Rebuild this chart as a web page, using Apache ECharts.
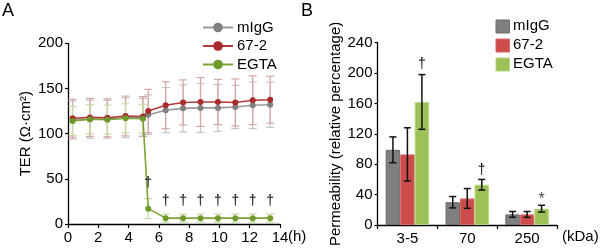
<!DOCTYPE html>
<html>
<head>
<meta charset="utf-8">
<script src="https://cdn.jsdelivr.net/npm/echarts@6/dist/echarts.min.js"></script>
<style>
  html, body { margin: 0; padding: 0; background: #fff; }
  #chart { width: 600px; height: 248px; }
</style>
</head>
<body>
<div id="chart"></div>
<script>
// Panel A: TER over time
const hours = [0.3, 1.45, 2.6, 3.8, 4.95, 5.3, 6.45, 7.6, 8.75, 9.9, 11.05, 12.2, 13.35];
const terMigg = [115, 116, 116, 117.5, 118, 121, 126, 128, 128.5, 128.5, 129.5, 131.5, 132];
const terMiggErr = [21, 21, 21, 22, 21, 22, 25, 26, 27, 26, 24, 26, 25];
const ter672 = [117, 118, 117.5, 119.5, 119, 125, 131.5, 134.5, 135, 135, 134.5, 137, 137.5];
const ter672Err = [21, 21, 21, 22, 22, 24, 26, 25, 27, 25, 26, 27, 26];
const terEgta = [114, 116, 115.5, 117, 116.5, 17, 6.5, 6.5, 6.5, 6.5, 6.5, 6.5, 6.5];
const terEgtaErr = [16, 16, 16, 16, 16, 11, 4.5, 4.5, 4.5, 4.5, 4.5, 4.5, 4.5];
const daggerHoursA = [5.3, 6.45, 7.6, 8.75, 9.9, 11.05, 12.2, 13.35];
const daggerYA = [45, 25, 25, 25, 25, 25, 25, 25];

// Panel B: permeability by tracer size
const sizes = ['3-5', '70', '250'];
const permMigg = [99, 30, 14];
const permMiggErr = [17, 7.5, 3.8];
const perm672 = [93, 35, 14];
const perm672Err = [35, 13, 3.8];
const permEgta = [162, 53, 21.5];
const permEgtaErr = [36, 7, 4.5];
const marksB = ['†', '†', '*'];
const marksBY = [212, 72, 33];

const font = 'Liberation Sans, Arial, Helvetica, sans-serif';
const C = {
  gray: '#808080', grayLine: '#999999', grayErr: '#c4c4c4',
  red: '#a92b2b', redLine: '#b03a3a', redErr: '#d8a4a4',
  green: '#6e9a2a', greenLine: '#7aa535', greenErr: '#c9daa2',
  barGray: '#7f7f7f', barRed: '#cc4b4b', barGreen: '#9cc257'
};

const chart = echarts.init(document.getElementById('chart'), null, { renderer: 'canvas' });

function lineErr(vals, errs, color) {
  return {
    type: 'custom',
    xAxisIndex: 0, yAxisIndex: 0,
    silent: true,
    z: 1,
    data: hours.map((h, i) => [h, vals[i] - errs[i], vals[i] + errs[i]]),
    renderItem: (params, api) => {
      const lo = api.coord([api.value(0), api.value(1)]);
      const hi = api.coord([api.value(0), api.value(2)]);
      const w = 4;
      const style = { stroke: color, lineWidth: 1.2, fill: null };
      return {
        type: 'group',
        children: [
          { type: 'line', shape: { x1: lo[0], y1: lo[1], x2: hi[0], y2: hi[1] }, style },
          { type: 'line', shape: { x1: lo[0] - w, y1: lo[1], x2: lo[0] + w, y2: lo[1] }, style },
          { type: 'line', shape: { x1: hi[0] - w, y1: hi[1], x2: hi[0] + w, y2: hi[1] }, style }
        ]
      };
    }
  };
}

function lineSeries(name, vals, color, lineColor) {
  return {
    name, type: 'line', xAxisIndex: 0, yAxisIndex: 0,
    data: hours.map((h, i) => [h, vals[i]]),
    symbol: 'circle', symbolSize: 6,
    itemStyle: { color },
    lineStyle: { color: lineColor, width: 1.6 },
    z: 3
  };
}

const barW = 14.5;
function barErr(vals, errs, idx) {
  return {
    type: 'custom',
    xAxisIndex: 1, yAxisIndex: 1,
    silent: true,
    z: 5,
    data: sizes.map((s, i) => [i, vals[i] - errs[i], vals[i] + errs[i]]),
    renderItem: (params, api) => {
      const lo = api.coord([api.value(0), api.value(1)]);
      const hi = api.coord([api.value(0), api.value(2)]);
      const x = lo[0] + (idx - 1) * barW;
      const w = 3.5;
      const style = { stroke: '#111', lineWidth: 1.5, fill: null };
      return {
        type: 'group',
        children: [
          { type: 'line', shape: { x1: x, y1: lo[1], x2: x, y2: hi[1] }, style },
          { type: 'line', shape: { x1: x - w, y1: lo[1], x2: x + w, y2: lo[1] }, style },
          { type: 'line', shape: { x1: x - w, y1: hi[1], x2: x + w, y2: hi[1] }, style }
        ]
      };
    }
  };
}

function barSeries(name, vals, color, border) {
  return {
    name, type: 'bar', xAxisIndex: 1, yAxisIndex: 1,
    data: vals,
    barWidth: barW, barGap: '0%',
    itemStyle: { color, borderColor: border, borderWidth: 1 }
  };
}

const axisCommon = {
  axisLine: { show: true, lineStyle: { color: '#000', width: 1.3 } },
  axisTick: { show: true, length: 3, lineStyle: { color: '#000', width: 1.2 } },
  axisLabel: { color: '#000', fontSize: 15, fontFamily: font },
  splitLine: { show: false }
};

const option = {
  backgroundColor: '#fff',
  animation: false,
  textStyle: { fontFamily: font },
  grid: [
    { left: 68, right: 320, top: 43.3, bottom: 24 },
    { left: 377.5, right: 43, top: 42.7, bottom: 21.3 }
  ],
  xAxis: [
    {
      ...axisCommon, gridIndex: 0, type: 'value', min: 0, max: 14, interval: 2,
      axisTick: { show: true, length: 4, inside: false, lineStyle: { color: '#000', width: 1.2 } },
      axisLabel: { ...axisCommon.axisLabel, margin: 6 }
    },
    {
      ...axisCommon, gridIndex: 1, type: 'category', data: sizes,
      axisTick: { show: true, length: 4, alignWithLabel: false, lineStyle: { color: '#000', width: 1.2 } },
      axisLabel: { ...axisCommon.axisLabel, margin: 6 }
    }
  ],
  yAxis: [
    {
      ...axisCommon, gridIndex: 0, type: 'value', min: 0, max: 200, interval: 50,
      name: 'TER (Ω·cm²)', nameLocation: 'middle', nameGap: 35,
      nameTextStyle: { color: '#000', fontSize: 15, fontFamily: font },
      axisLabel: { ...axisCommon.axisLabel, margin: 5 }
    },
    {
      ...axisCommon, gridIndex: 1, type: 'value', min: 0, max: 240, interval: 40,
      name: 'Permeability (relative percentage)', nameLocation: 'middle', nameGap: 34,
      nameTextStyle: { color: '#000', fontSize: 15, fontFamily: font },
      axisLabel: { ...axisCommon.axisLabel, margin: 5 }
    }
  ],
  legend: [
    {
      data: ['mIgG', '67-2', 'EGTA'].map(n => ({ name: n })),
      orient: 'vertical', left: 197, top: 15,
      itemWidth: 30, itemHeight: 12, itemGap: 3.5,
      textStyle: { fontSize: 15, color: '#000', fontFamily: font, padding: [0, 0, 0, -1] }
    }
  ],
  graphic: [
    { type: 'text', left: 2, top: 2, style: { text: 'A', fontSize: 18, fill: '#000', fontFamily: font } },
    { type: 'text', left: 301, top: 2, style: { text: 'B', fontSize: 18, fill: '#000', fontFamily: font } },
    { type: 'text', left: 288, top: 229, style: { text: '(h)', fontSize: 15, fill: '#000', fontFamily: font } },
    { type: 'text', left: 562, top: 229, style: { text: '(kDa)', fontSize: 15, fill: '#000', fontFamily: font } },
    // legend B
    { type: 'rect', left: 495.5, top: 19.5, shape: { width: 13.5, height: 13 }, style: { fill: C.barGray, stroke: '#6c6c6c' } },
    { type: 'text', left: 513, top: 18, style: { text: 'mIgG', fontSize: 15, fill: '#000', fontFamily: font } },
    { type: 'rect', left: 495.5, top: 38.5, shape: { width: 13.5, height: 13 }, style: { fill: C.barRed, stroke: '#d86a6a' } },
    { type: 'text', left: 513, top: 37, style: { text: '67-2', fontSize: 15, fill: '#000', fontFamily: font } },
    { type: 'rect', left: 495.5, top: 57.5, shape: { width: 13.5, height: 13 }, style: { fill: C.barGreen, stroke: '#b7d682' } },
    { type: 'text', left: 513, top: 56, style: { text: 'EGTA', fontSize: 15, fill: '#000', fontFamily: font } }
  ],
  series: [
    lineErr(terMigg, terMiggErr, C.grayErr),
    lineErr(ter672, ter672Err, C.redErr),
    lineErr(terEgta, terEgtaErr, C.greenErr),
    lineSeries('mIgG', terMigg, C.gray, C.grayLine),
    lineSeries('67-2', ter672, C.red, C.redLine),
    lineSeries('EGTA', terEgta, C.green, C.greenLine),
    {
      type: 'scatter', xAxisIndex: 0, yAxisIndex: 0, silent: true,
      symbolSize: 0,
      data: daggerHoursA.map((h, i) => [h, daggerYA[i]]),
      label: { show: true, position: 'inside', formatter: '†', fontSize: 14, fontWeight: 'bold', color: '#000', fontFamily: font },
      z: 6
    },
    barSeries('mIgG', permMigg, C.barGray, '#6c6c6c'),
    barSeries('67-2', perm672, C.barRed, '#d86a6a'),
    barSeries('EGTA', permEgta, C.barGreen, '#b7d682'),
    barErr(permMigg, permMiggErr, 0),
    barErr(perm672, perm672Err, 1),
    barErr(permEgta, permEgtaErr, 2),
    {
      type: 'custom', xAxisIndex: 1, yAxisIndex: 1, silent: true, z: 6,
      data: sizes.map((s, i) => [i, marksBY[i]]),
      renderItem: (params, api) => {
        const p = api.coord([api.value(0), api.value(1)]);
        const txt = marksB[params.dataIndex];
        return {
          type: 'text',
          x: p[0] + barW, y: p[1],
          style: {
            text: txt, fontSize: txt === '*' ? 16 : 14, fill: txt === '*' ? '#444' : '#000',
            fontFamily: font, align: 'center', verticalAlign: 'middle'
          }
        };
      }
    }
  ]
};

chart.setOption(option);
</script>
</body>
</html>
